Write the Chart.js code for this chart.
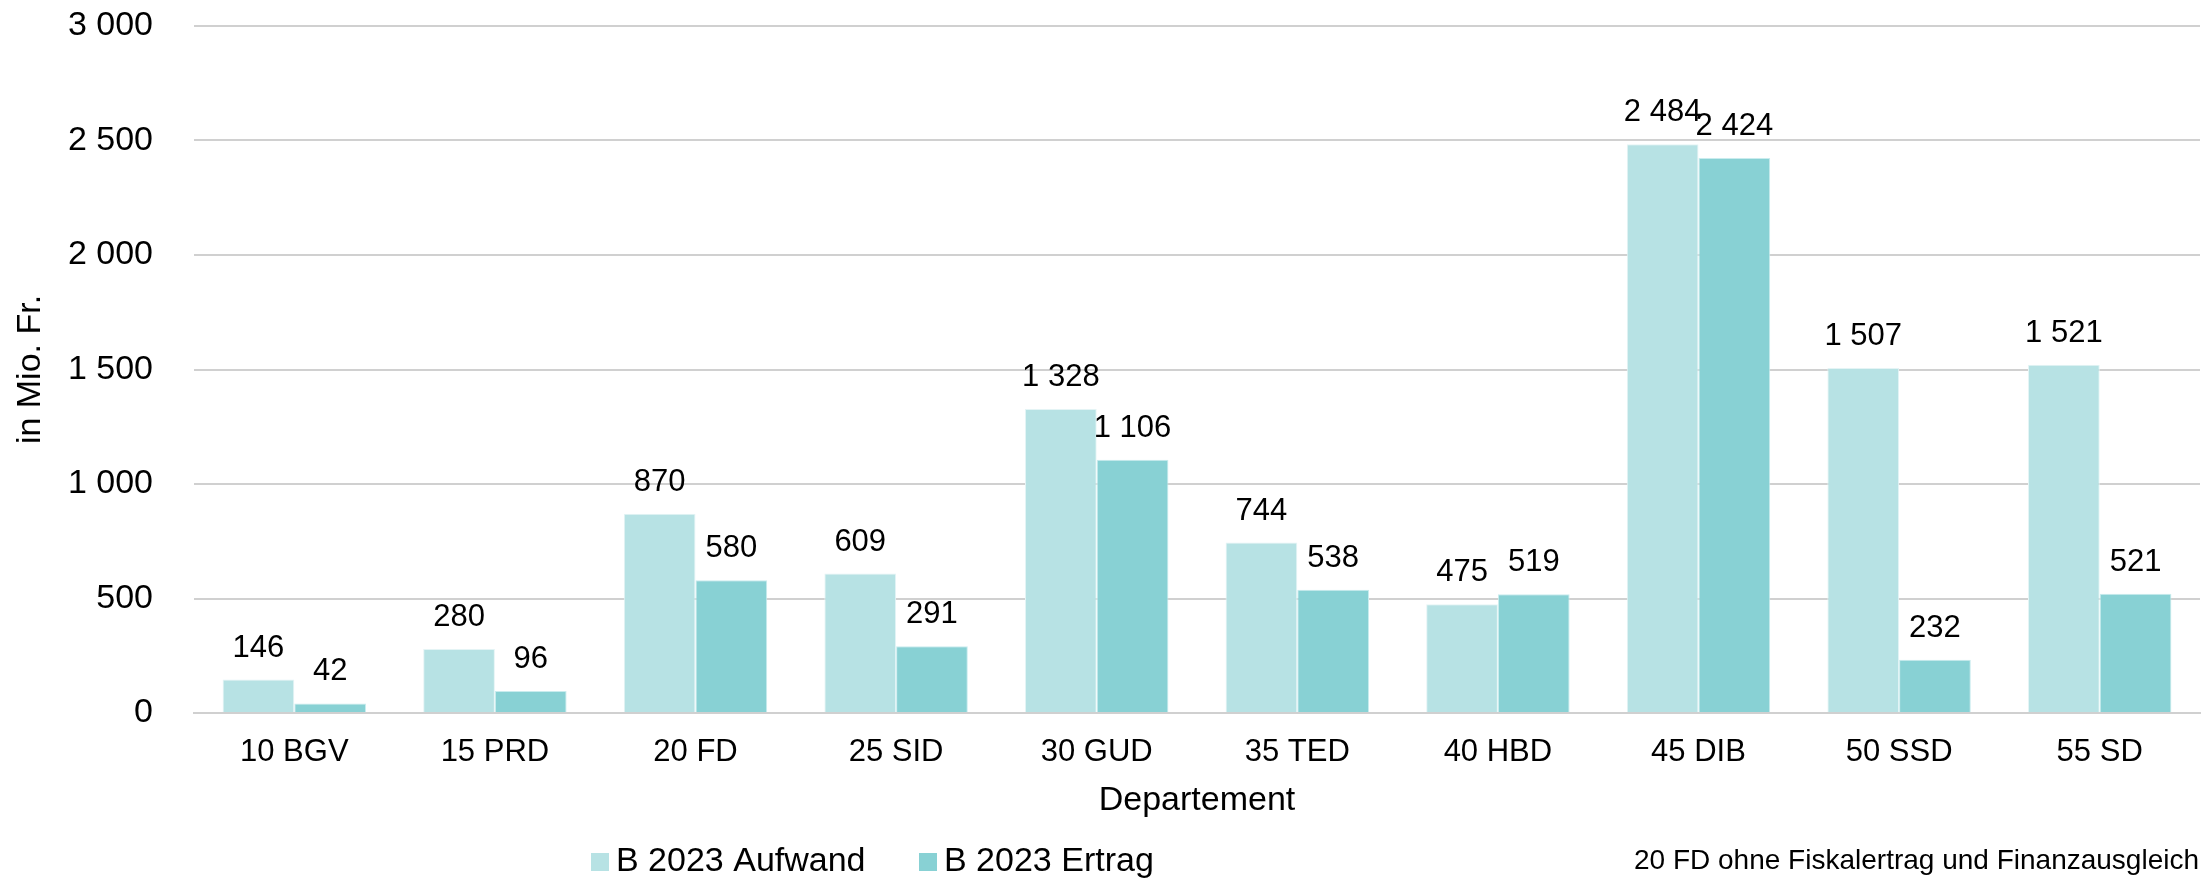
<!DOCTYPE html>
<html lang="de">
<head>
<meta charset="utf-8">
<title>Aufwand und Ertrag nach Departement</title>
<script src="https://cdn.jsdelivr.net/npm/chart.js@4.4.1/dist/chart.umd.min.js"></script>
<style>
  html, body { margin: 0; padding: 0; background: #fff; }
  #wrap { width: 2205px; height: 880px; }
</style>
</head>
<body>
<div id="wrap"><canvas id="chart" width="2205" height="880"></canvas></div>
<script>
const departements = ['10 BGV', '15 PRD', '20 FD', '25 SID', '30 GUD', '35 TED', '40 HBD', '45 DIB', '50 SSD', '55 SD'];
const aufwand = [146, 280, 870, 609, 1328, 744, 475, 2484, 1507, 1521];
const ertrag = [42, 96, 580, 291, 1106, 538, 519, 2424, 232, 521];
const seriesLabels = ['B 2023 Aufwand', 'B 2023 Ertrag'];
const footnote = '20 FD ohne Fiskalertrag und Finanzausgleich';

const FONT = '"Liberation Sans", Arial, Helvetica, sans-serif';
Chart.defaults.font.family = FONT;
Chart.defaults.color = '#000';

// 1234 -> "1 234"
function fmt(v) {
    return String(v).replace(/\B(?=(\d{3})+(?!\d))/g, ' ');
}

// value labels above each bar
const valueLabels = {
    id: 'valueLabels',
    afterDatasetsDraw(chart) {
        const ctx = chart.ctx;
        ctx.save();
        ctx.font = '31px ' + FONT;
        ctx.fillStyle = '#000';
        ctx.textAlign = 'center';
        ctx.textBaseline = 'alphabetic';
        chart.data.datasets.forEach((ds, i) => {
            chart.getDatasetMeta(i).data.forEach((bar, j) => {
                ctx.fillText(fmt(ds.data[j]), bar.x, bar.y - 23);
            });
        });
        ctx.restore();
    }
};

// legend bottom-left and footnote bottom-right
const bottomLegend = {
    id: 'bottomLegend',
    afterDraw(chart) {
        const ctx = chart.ctx;
        const y = 862;
        const starts = [591, 919];
        ctx.save();
        ctx.textBaseline = 'middle';
        chart.data.datasets.forEach((ds, i) => {
            const x = starts[i];
            ctx.fillStyle = ds.backgroundColor;
            ctx.fillRect(x, y - 9, 18, 18);
            ctx.fillStyle = '#000';
            ctx.font = '34px ' + FONT;
            ctx.textAlign = 'left';
            ctx.fillText(ds.label, x + 25, y);
        });
        ctx.font = '28px ' + FONT;
        ctx.textAlign = 'right';
        ctx.fillText(footnote, 2199, 861);
        ctx.restore();
    }
};

new Chart(document.getElementById('chart'), {
    type: 'bar',
    data: {
        labels: departements,
        datasets: [
            { label: seriesLabels[0], data: aufwand, backgroundColor: '#b7e2e4', borderColor: '#e4f4f5', borderWidth: 1 },
            { label: seriesLabels[1], data: ertrag, backgroundColor: '#88d1d4', borderColor: '#c9ecee', borderWidth: 1 }
        ]
    },
    options: {
        responsive: false,
        animation: false,
        layout: { padding: { top: 26, right: 5, bottom: 59, left: 0 } },
        datasets: {
            bar: { categoryPercentage: 0.715, barPercentage: 1.0 }
        },
        plugins: {
            legend: { display: false },
            tooltip: { enabled: false }
        },
        scales: {
            x: {
                grid: { display: false, drawTicks: false },
                border: { display: true, color: '#d0d0d0', width: 2 },
                ticks: { font: { size: 31 }, padding: 21, color: '#000' },
                title: { display: true, text: 'Departement', font: { size: 34 }, padding: 0, color: '#000' },
                afterFit(scale) { scale.height = 108; }
            },
            y: {
                min: 0,
                max: 3000,
                ticks: {
                    stepSize: 500,
                    font: { size: 34 },
                    padding: 0,
                    color: '#000',
                    callback: (v) => fmt(v)
                },
                // invisible tick marks push the labels away from the plot
                // without adding the vertical padding that ticks.padding brings
                grid: { color: '#d0d0d0', lineWidth: 2, drawTicks: true, tickLength: 41, tickColor: 'rgba(0,0,0,0)' },
                border: { display: false },
                title: { display: true, text: 'in Mio. Fr.', font: { size: 34 }, padding: { top: 10, bottom: 0 }, color: '#000' },
                afterFit(scale) { scale.width = 194; }
            }
        }
    },
    plugins: [valueLabels, bottomLegend]
});
</script>
</body>
</html>
